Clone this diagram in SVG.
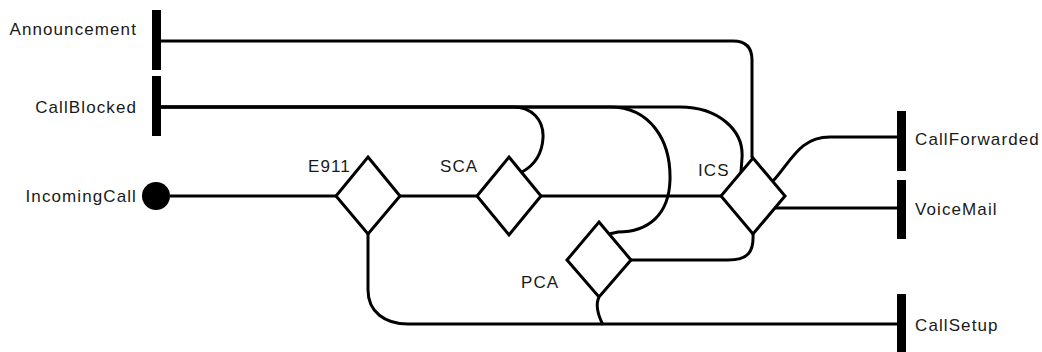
<svg xmlns="http://www.w3.org/2000/svg" width="1042" height="352" viewBox="0 0 1042 352">
<style>
.lbl{font-family:"Liberation Sans",Arial,sans-serif;font-size:17px;fill:#1a1a1a;letter-spacing:1.1px}
.end{text-anchor:end}
.bar{fill:#000}
.dia{fill:#fff;stroke:#000;stroke-width:3}
.con{fill:none;stroke:#000;stroke-width:3}
</style>
<rect width="1042" height="352" fill="#fff"/>
<g id="connectors">
<path class="con" d="M170,196 H336"/>
<path class="con" d="M400,196 H477"/>
<path class="con" d="M541,196 H721"/>
<path class="con" d="M368,234 V290 C368,312 385,324 408,324 H897"/>
<path class="con" d="M599,297 C595,305 598,315 603,325"/>
<path class="con" d="M161,41 H733 C746,41 752,48 752,60 V158"/>
<path class="con" d="M161,107 H513 C532,107 544,120 543,138 C542,155 533,166 522,172"/>
<path class="con" d="M161,107 H610 C650,107 671,140 670,180 C669,215 648,232 618,232 L609,234"/>
<path class="con" d="M161,107 H680 C718,107 744,130 742,158 L741,172"/>
<path class="con" d="M773,181 C792,160 800,137 830,137 H897"/>
<path class="con" d="M775,208 H897"/>
<path class="con" d="M753,234 C754,252 748,260 728,260 H631"/>
</g>
<g id="Announcement"><rect class="bar" x="152" y="10" width="9" height="60"/><text class="lbl end" x="137" y="35">Announcement</text></g>
<g id="CallBlocked"><rect class="bar" x="152" y="76" width="9" height="60"/><text class="lbl end" x="137" y="113">CallBlocked</text></g>
<g id="IncomingCall"><circle cx="156" cy="196" r="14" fill="#000"/><text class="lbl end" x="137" y="202">IncomingCall</text></g>
<g id="E911"><polygon class="dia" points="368,157 400,196 368,234 336,196"/><text class="lbl" x="308" y="172">E911</text></g>
<g id="SCA"><polygon class="dia" points="509,157 541,196 509,235 477,196"/><text class="lbl" x="440" y="172">SCA</text></g>
<g id="PCA"><polygon class="dia" points="599,222 631,260 599,297 567,260"/><text class="lbl" x="521" y="288">PCA</text></g>
<g id="ICS"><polygon class="dia" points="753,158 785,196 753,234 721,196"/><text class="lbl" x="698" y="176">ICS</text></g>
<g id="CallForwarded"><rect class="bar" x="897" y="111" width="9" height="60"/><text class="lbl" x="915" y="145">CallForwarded</text></g>
<g id="VoiceMail"><rect class="bar" x="897" y="180" width="9" height="59"/><text class="lbl" x="915" y="215">VoiceMail</text></g>
<g id="CallSetup"><rect class="bar" x="897" y="294" width="9" height="60"/><text class="lbl" x="915" y="331">CallSetup</text></g>
</svg>
